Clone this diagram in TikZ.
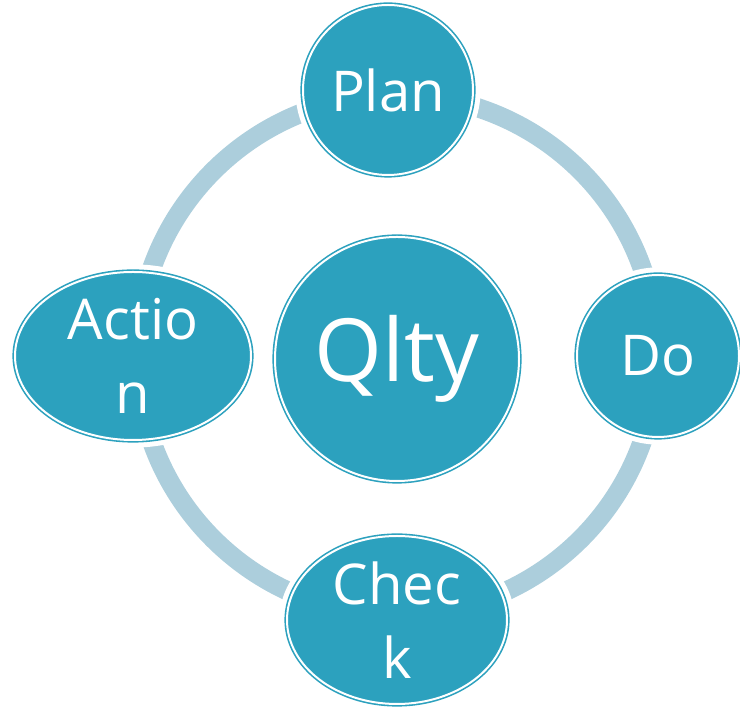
\documentclass[tikz,border=0pt]{standalone}
\usepackage{fontspec}
\setmainfont{Open Sans}
\usetikzlibrary{shapes.geometric}
\definecolor{pdcablue}{RGB}{44,161,190}
\definecolor{ringblue}{RGB}{172,206,220}
\tikzset{
  stage/.style={fill=pdcablue, draw=pdcablue, double=white,
    double distance=0.05cm, line width=0.04cm, text=white,
    align=center, inner sep=0pt,
    preaction={draw=white, line width=0.38cm},
    font=\fontsize{40}{53}\selectfont},
  roundstage/.style={stage, circle},
  ovalstage/.style={stage, ellipse}
}

\begin{document}
\begin{tikzpicture}
\useasboundingbox (0,0) rectangle (18.5,17.7);
% ring behind the stages
\draw[ringblue, line width=0.48cm] (9.925,8.825) circle (6.5);
\node[roundstage, minimum size=4.25cm] (plan) at (9.7,15.45) {Plan};
\node[roundstage, minimum size=4.05cm] (do) at (16.45,8.8) {Do};
\node[ovalstage, minimum width=5.5cm, minimum height=4.2cm] (check) at (9.925,2.2) {Chec\\k};
\node[ovalstage, minimum width=5.9cm, minimum height=4.2cm] (action) at (3.325,8.8) {Actio\\n};
\node[roundstage, minimum size=6.1cm, font=\fontsize{62}{70}\selectfont] (qlty) at (9.925,8.725) {Qlty};
\end{tikzpicture}
\end{document}
